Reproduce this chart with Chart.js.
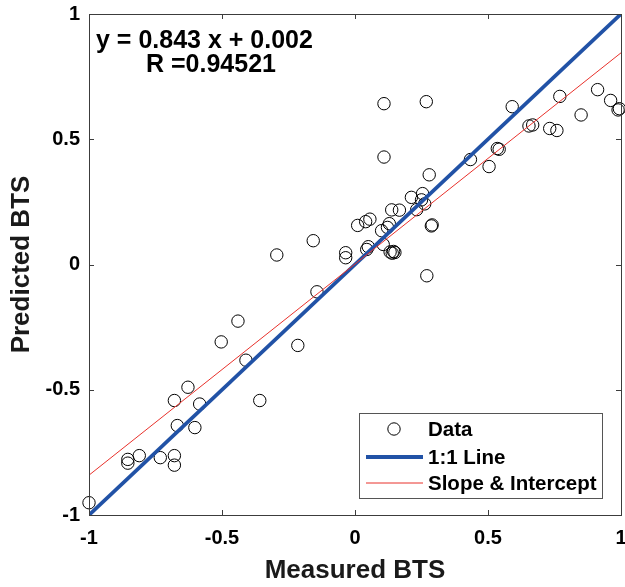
<!DOCTYPE html>
<html>
<head>
<meta charset="utf-8">
<title>Measured vs Predicted BTS</title>
<script src="https://cdn.jsdelivr.net/npm/chart.js@4/dist/chart.umd.min.js"></script>
<style>
  html, body { margin: 0; padding: 0; background: #ffffff; }
  canvas { display: block; }
</style>
</head>
<body>
<canvas id="chart" width="625" height="587"></canvas>
<script>
// Measured vs predicted BTS (normalised), one entry per sample
const measured = [
  -1.000, -0.854, -0.854, -0.811, -0.732, -0.679, -0.679, -0.668, -0.679, -0.602,
  -0.584, -0.628, -0.503, -0.440, -0.410, -0.358, -0.215, -0.143, -0.294, -0.157,
  -0.035, -0.035, 0.010, 0.040, 0.056, 0.044, 0.050, 0.100, 0.106, 0.122,
  0.129, 0.138, 0.167, 0.132, 0.140, 0.145, 0.150, 0.212, 0.232, 0.254,
  0.250, 0.262, 0.287, 0.290, 0.279, 0.270, 0.109, 0.268, 0.109, 0.434,
  0.504, 0.535, 0.542, 0.591, 0.654, 0.668, 0.732, 0.759, 0.770, 0.850,
  0.912, 0.961, 0.989, 0.994
];
const predicted = [
  -0.951, -0.778, -0.793, -0.763, -0.771, -0.763, -0.801, -0.643, -0.543, -0.651,
  -0.557, -0.490, -0.309, -0.226, -0.382, -0.543, -0.323, -0.109, 0.038, 0.095,
  0.047, 0.027, 0.156, 0.171, 0.181, 0.060, 0.071, 0.135, 0.080, 0.148,
  0.163, 0.218, 0.217, 0.050, 0.045, 0.052, 0.048, 0.268, 0.219, 0.283,
  0.258, 0.242, 0.154, 0.158, 0.358, -0.045, 0.642, 0.650, 0.429, 0.419,
  0.391, 0.463, 0.460, 0.630, 0.553, 0.557, 0.543, 0.535, 0.671, 0.597,
  0.698, 0.655, 0.617, 0.622
];

// Linear fit reported on the plot
const SLOPE = 0.843;
const INTERCEPT = 0.002;
const R_VALUE = '0.94521';

// Axis range and tick labels
const AXIS_RANGE = [-1, 1];
const TICKS = [-1, -0.5, 0, 0.5, 1];

const legendLabels = ['Data', '1:1 Line', 'Slope & Intercept'];

const FONT = "'Liberation Sans', Arial, Helvetica, sans-serif";
const BLUE = '#2152a6';
const RED = '#e8312b';
const AXIS_COLOR = '#3c3c3c';

const scatterPoints = measured.map((x, i) => ({ x: x, y: predicted[i] }));
const identityLine = AXIS_RANGE.map(v => ({ x: v, y: v }));
const fitLine = AXIS_RANGE.map(v => ({ x: v, y: SLOPE * v + INTERCEPT }));

// Box around the plot area with inward tick marks on all four sides
const axesBox = {
  id: 'axesBox',
  afterDatasetsDraw(chart) {
    const { ctx, chartArea: a, scales: { x, y } } = chart;
    ctx.save();
    ctx.strokeStyle = AXIS_COLOR;
    ctx.lineWidth = 1;
    ctx.beginPath();
    TICKS.forEach(t => {
      const px = Math.round(x.getPixelForValue(t)) + 0.5;
      ctx.moveTo(px, a.bottom); ctx.lineTo(px, a.bottom - 5);
      ctx.moveTo(px, a.top); ctx.lineTo(px, a.top + 5);
      const py = Math.round(y.getPixelForValue(t)) + 0.5;
      ctx.moveTo(a.left, py); ctx.lineTo(a.left + 5, py);
      ctx.moveTo(a.right, py); ctx.lineTo(a.right - 5, py);
    });
    ctx.stroke();
    ctx.strokeRect(Math.round(a.left) + 0.5, Math.round(a.top) + 0.5,
                   Math.round(a.right - a.left), Math.round(a.bottom - a.top));
    ctx.restore();
  }
};

// Fit equation and correlation text in the upper-left corner
const fitText = {
  id: 'fitText',
  afterDraw(chart) {
    const { ctx, chartArea: a } = chart;
    ctx.save();
    ctx.fillStyle = '#000000';
    ctx.font = 'bold 25px ' + FONT;
    ctx.textAlign = 'left';
    ctx.textBaseline = 'alphabetic';
    ctx.fillText('y = ' + SLOPE.toFixed(3) + ' x + ' + INTERCEPT.toFixed(3), a.left + 7, a.top + 34);
    ctx.fillText('R =' + R_VALUE, a.left + 57, a.top + 58);
    ctx.restore();
  }
};

// Legend box in the lower-right corner
const boxLegend = {
  id: 'boxLegend',
  afterDraw(chart) {
    const { ctx, chartArea: a } = chart;
    const bx = a.right - 262, by = a.bottom - 102, bw = 243, bh = 85;
    ctx.save();
    ctx.fillStyle = '#ffffff';
    ctx.fillRect(bx, by, bw, bh);
    ctx.strokeStyle = '#555555';
    ctx.lineWidth = 1;
    ctx.strokeRect(bx + 0.5, by + 0.5, bw, bh);
    const rows = [by + 16, by + 44, by + 70];
    const ds = chart.data.datasets;
    // row 0: circle marker
    ctx.beginPath();
    ctx.arc(bx + 35, rows[0], ds[0].pointRadius, 0, Math.PI * 2);
    ctx.strokeStyle = ds[0].borderColor;
    ctx.lineWidth = ds[0].borderWidth;
    ctx.stroke();
    // rows 1-2: line samples
    [1, 2].forEach(i => {
      ctx.beginPath();
      ctx.strokeStyle = ds[i].borderColor;
      ctx.lineWidth = ds[i].borderWidth;
      ctx.moveTo(bx + 7, rows[i]);
      ctx.lineTo(bx + 64, rows[i]);
      ctx.stroke();
    });
    ctx.fillStyle = '#000000';
    ctx.font = 'bold 20.5px ' + FONT;
    ctx.textAlign = 'left';
    ctx.textBaseline = 'middle';
    legendLabels.forEach((t, i) => ctx.fillText(t, bx + 69, rows[i] + 1));
    ctx.restore();
  }
};

new Chart(document.getElementById('chart'), {
  type: 'scatter',
  data: {
    datasets: [
      {
        label: legendLabels[0],
        data: scatterPoints,
        pointStyle: 'circle',
        pointRadius: 6.2,
        pointHoverRadius: 6.2,
        borderColor: '#000000',
        backgroundColor: 'rgba(0,0,0,0)',
        borderWidth: 1,
        clip: false,
        order: 3
      },
      {
        label: legendLabels[1],
        data: identityLine,
        showLine: true,
        borderColor: BLUE,
        borderWidth: 3.8,
        pointRadius: 0,
        order: 2
      },
      {
        label: legendLabels[2],
        data: fitLine,
        showLine: true,
        borderColor: RED,
        borderWidth: 1,
        pointRadius: 0,
        order: 1
      }
    ]
  },
  options: {
    responsive: false,
    animation: false,
    events: [],
    layout: { autoPadding: false, padding: { top: 14, right: 4, left: 0, bottom: 0 } },
    plugins: {
      legend: { display: false },
      tooltip: { enabled: false }
    },
    scales: {
      x: {
        type: 'linear',
        min: AXIS_RANGE[0],
        max: AXIS_RANGE[1],
        afterBuildTicks: s => { s.ticks = TICKS.map(v => ({ value: v })); },
        afterFit: s => { s.height = 72; s.paddingLeft = 0; s.paddingRight = 0; },
        grid: { display: false, drawTicks: false },
        border: { display: false },
        ticks: {
          padding: 11,
          color: '#000000',
          font: { family: FONT, size: 20, weight: 'bold' },
          callback: v => String(v)
        },
        title: {
          display: true,
          text: 'Measured BTS',
          color: '#1a1a1a',
          font: { family: FONT, size: 26, weight: 'bold' },
          padding: { top: 0, bottom: 1 }
        }
      },
      y: {
        type: 'linear',
        min: AXIS_RANGE[0],
        max: AXIS_RANGE[1],
        afterBuildTicks: s => { s.ticks = TICKS.map(v => ({ value: v })); },
        afterFit: s => { s.width = 89; s.paddingTop = 0; s.paddingBottom = 0; },
        grid: { display: false, drawTicks: false },
        border: { display: false },
        ticks: {
          padding: 9,
          color: '#000000',
          font: { family: FONT, size: 20, weight: 'bold' },
          callback: v => String(v)
        },
        title: {
          display: true,
          text: 'Predicted BTS',
          color: '#1a1a1a',
          font: { family: FONT, size: 26, weight: 'bold' },
          padding: { top: 6, bottom: 0 }
        }
      }
    }
  },
  plugins: [axesBox, fitText, boxLegend]
});
</script>
</body>
</html>
